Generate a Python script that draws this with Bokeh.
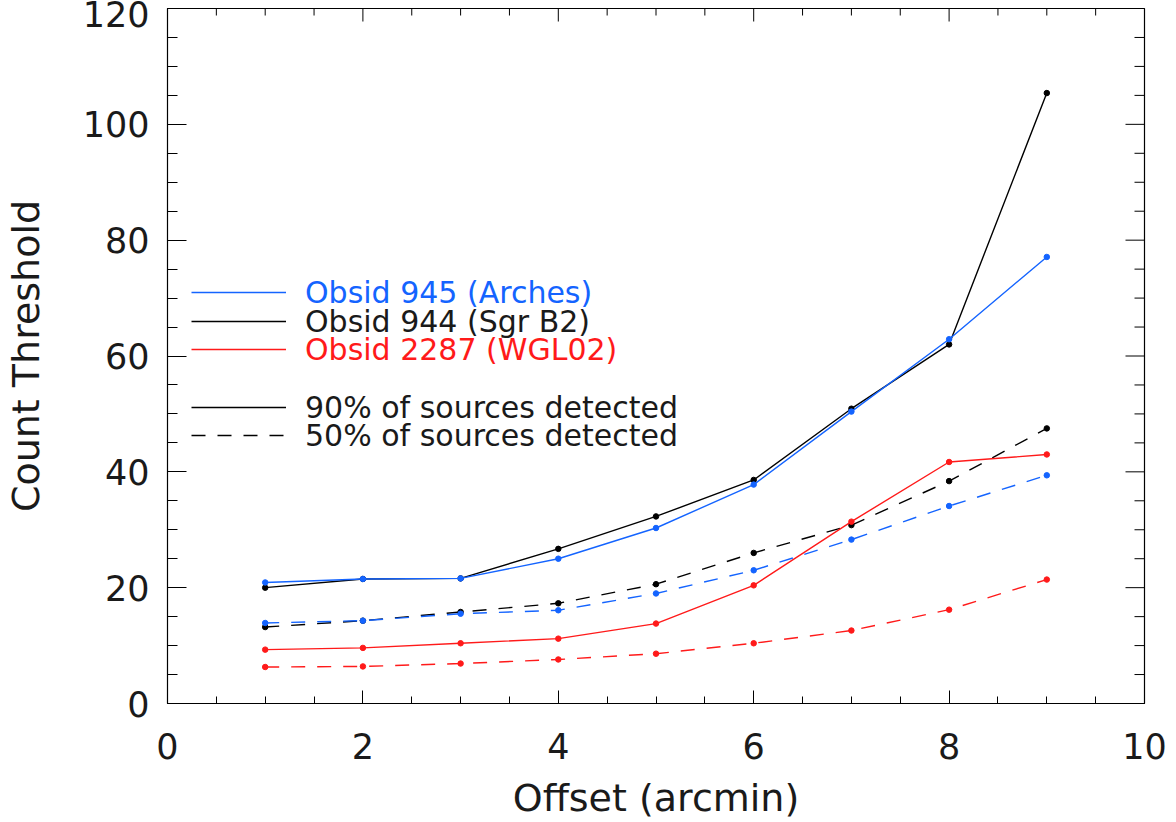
import math
from bokeh.plotting import figure
from bokeh.models import Range1d, SingleIntervalTicker, Legend, LegendItem
from bokeh.embed import file_html
from bokeh.resources import INLINE

# ---- data ----
offset = [1, 2, 3, 4, 5, 6, 7, 8, 9]
obs945_90 = [20.9, 21.5, 21.6, 25.0, 30.3, 37.8, 50.4, 62.9, 77.1]
obs944_90 = [20.0, 21.5, 21.6, 26.7, 32.3, 38.6, 50.9, 62.0, 105.4]
obs2287_90 = [9.3, 9.6, 10.4, 11.2, 13.8, 20.4, 31.4, 41.7, 43.0]
obs945_50 = [13.9, 14.3, 15.5, 16.1, 19.0, 23.0, 28.3, 34.1, 39.4]
obs944_50 = [13.2, 14.3, 15.8, 17.3, 20.6, 26.0, 30.8, 38.4, 47.5]
obs2287_50 = [6.3, 6.4, 6.9, 7.6, 8.6, 10.4, 12.6, 16.2, 21.4]

legend_labels = ["Obsid 945 (Arches)", "Obsid 944 (Sgr B2)", "Obsid 2287 (WGL02)",
                 "90% of sources detected", "50% of sources detected"]

# tick positions for the mirrored (unlabelled) top and right axes
x_major_ticks = [0, 2, 4, 6, 8, 10]
x_minor_ticks = [0.5, 1, 1.5, 2.5, 3, 3.5, 4.5, 5, 5.5, 6.5, 7, 7.5, 8.5, 9, 9.5]
y_major_ticks = [0, 20, 40, 60, 80, 100, 120]
y_minor_ticks = [5, 10, 15, 25, 30, 35, 45, 50, 55, 65, 70, 75, 85, 90, 95, 105, 110, 115]

FONT = "DejaVu Sans"
BLUE = "#1464ff"
BLACK = "#000000"
RED = "#ff1a1a"
TXT = "#1a1a1a"
DASH = "14 12"

p = figure(width=1176, height=822, output_backend="svg", toolbar_location=None,
           x_range=Range1d(0, 10), y_range=Range1d(0, 120),
           min_border_left=165, min_border_right=32, min_border_top=8,
           min_border_bottom=119,
           x_axis_label="Offset (arcmin)", y_axis_label="Count Threshold")
p.grid.visible = False
p.outline_line_color = "black"
p.outline_line_width = 1.2
p.background_fill_color = "white"
p.border_fill_color = "white"

def style_axis(ax, major_in, minor_in):
    ax.axis_line_color = "black"
    ax.major_tick_line_color = "black"
    ax.minor_tick_line_color = "black"
    ax.major_tick_in = major_in
    ax.major_tick_out = 0
    ax.minor_tick_in = minor_in
    ax.minor_tick_out = 0
    ax.major_label_text_font = FONT
    ax.major_label_text_color = TXT
    ax.major_label_text_font_size = "35px"
    ax.axis_label_text_font = FONT
    ax.axis_label_text_font_style = "normal"
    ax.axis_label_text_color = TXT
    ax.axis_label_text_font_size = "38px"

xa = p.xaxis[0]
xa.ticker = SingleIntervalTicker(interval=2, num_minor_ticks=4)
style_axis(xa, 13, 7)
xa.major_label_standoff = 29
xa.axis_label_standoff = 14

ya = p.yaxis[0]
ya.ticker = SingleIntervalTicker(interval=20, num_minor_ticks=4)
style_axis(ya, 19, 10)
ya.major_label_standoff = 18
ya.axis_label_standoff = 32

# mirrored ticks on the top and right edges (inward), no labels
p.ray(x=x_major_ticks, y=120, length=13, angle=-math.pi / 2, length_units="screen",
      line_color="black", line_width=1)
p.ray(x=x_minor_ticks, y=120, length=7, angle=-math.pi / 2, length_units="screen",
      line_color="black", line_width=1)
p.ray(x=10, y=y_major_ticks, length=19, angle=math.pi, length_units="screen",
      line_color="black", line_width=1)
p.ray(x=10, y=y_minor_ticks, length=10, angle=math.pi, length_units="screen",
      line_color="black", line_width=1)

LW = 1.4
series = [
    (obs944_90, BLACK, "solid"),
    (obs944_50, BLACK, DASH),
    (obs945_90, BLUE, "solid"),
    (obs945_50, BLUE, DASH),
    (obs2287_90, RED, "solid"),
    (obs2287_50, RED, DASH),
]
rend = {}
for ys, col, dash in series:
    r = p.line(offset, ys, line_color=col, line_width=LW, line_dash=dash)
    p.scatter(offset, ys, size=5.5, fill_color=col, line_color=col)
    rend[(col, dash)] = r

# legend rows (one Legend per row to allow per-row text colours)
rows = [
    (legend_labels[0], rend[(BLUE, "solid")], BLUE, 292),
    (legend_labels[1], rend[(BLACK, "solid")], TXT, 321),
    (legend_labels[2], rend[(RED, "solid")], RED, 349),
    (legend_labels[3], rend[(BLACK, "solid")], TXT, 407),
    (legend_labels[4], rend[(BLACK, DASH)], TXT, 435),
]
ITEM_H = 36
for label, r, tc, cy in rows:
    lg = Legend(items=[LegendItem(label=label, renderers=[r])],
                location=(24, 703 - cy - ITEM_H // 2),
                glyph_width=95, glyph_height=ITEM_H, label_height=ITEM_H,
                label_standoff=19, padding=0, margin=0, spacing=0,
                border_line_alpha=0, background_fill_alpha=0,
                label_text_font=FONT, label_text_font_size="30px",
                label_text_color=tc)
    p.add_layout(lg)

open("out.html", "w").write(file_html(p, INLINE))
